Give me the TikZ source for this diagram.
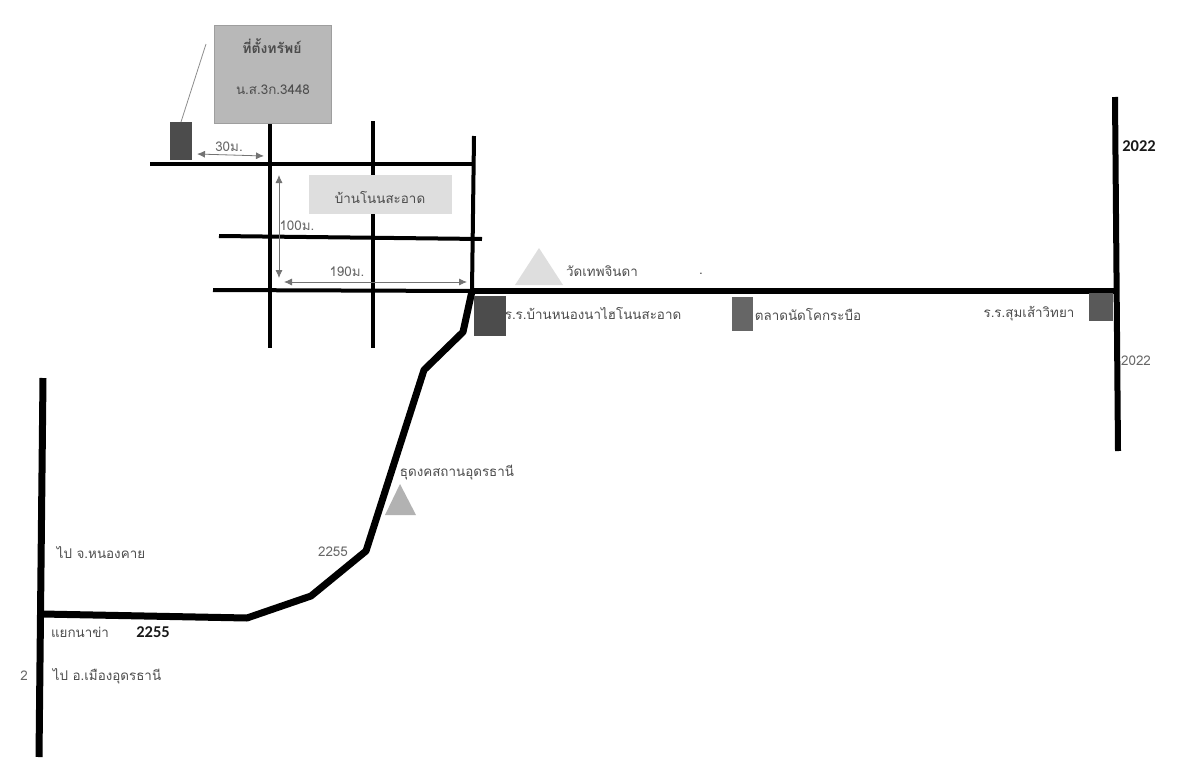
\documentclass[tikz,border=0pt]{standalone}
\usepackage{fontspec}
\usetikzlibrary{arrows.meta}
\setmainfont{Liberation Sans}
\newfontfamily\thaifont[Script=Thai]{Loma}
\newfontfamily\numfont{Carlito}
\begin{document}
\begin{tikzpicture}[x=1pt,y=-1pt,
    road/.style = {color=black,line width=#1,line join=round},
    road/.default = 4pt,
    dim/.style = {color=black!55,line width=0.8pt,{Latex[length=8pt,width=7pt]}-{Latex[length=8pt,width=7pt]}},
    lbl/.style = {color=black!70,font=\thaifont\fontsize{13.4}{15}\selectfont,inner sep=0pt},
    num/.style = {color=black!60,font=\thaifont\fontsize{13.4}{15}\selectfont,inner sep=0pt},
    boldnum/.style = {color=black!90,font=\numfont\bfseries\fontsize{16.5}{18}\selectfont,inner sep=0pt},
    block/.style = {fill=#1,inner sep=0pt,outer sep=0pt}
                    ]
    \useasboundingbox (0,0) rectangle (1200,782);
    % side streets
    \coordinate (v1t) at (270,122);
    \coordinate (v1b) at (270,348);
    \coordinate (v2t) at (373,121);
    \coordinate (v2b) at (373,348);
    \coordinate (v3t) at (474,136);
    \coordinate (jn) at (472,291);
    \coordinate (h1l) at (150,164);
    \coordinate (h1r) at (473,164);
    \coordinate (h2l) at (219,236);
    \coordinate (h2r) at (482,239);
    \coordinate (h3l) at (213,290);
    \coordinate (jr) at (1115,291);
    \draw[road] (v1t) -- (v1b);
    \draw[road] (v2t) -- (v2b);
    \draw[road] (v3t) -- (jn);
    \draw[road] (h1l) -- (h1r);
    \draw[road] (h2l) -- (h2r);
    \draw[road] (h3l) -- (jn);
    % main roads
    \coordinate (r1) at (463,332);
    \coordinate (r2) at (424,370);
    \coordinate (r3) at (366,551);
    \coordinate (r4) at (311,596);
    \coordinate (r5) at (247,618);
    \coordinate (r6) at (42,614);
    \coordinate (lt) at (43,378);
    \coordinate (lb) at (39,757);
    \coordinate (rt) at (1115,97);
    \coordinate (rb) at (1118,451);
    \draw[road=6pt] (jn) -- (jr);
    \draw[road=6pt] (rt) -- (rb);
    \draw[road=7pt] (jn) -- (r1) -- (r2) -- (r3) -- (r4) -- (r5) -- (r6);
    \draw[road=7pt] (lt) -- (lb);
    % boxes
    \node[block=black!28,draw=black!38,minimum width=117pt,minimum height=98pt] at (272.5,74) (plot) {};
    \node[block=black!13,minimum width=143pt,minimum height=39pt] at (380.5,194.5) (village) {};
    \node[block=black!70,minimum width=22pt,minimum height=38pt] at (181,141) (house) {};
    \node[block=black!70,minimum width=32pt,minimum height=40pt] at (490,316) (school) {};
    \node[block=black!60,minimum width=21pt,minimum height=34pt] at (742.5,314) (market) {};
    \node[block=black!65,minimum width=24pt,minimum height=28pt] at (1101,307) (school2) {};
    \coordinate (pt) at (206,44);
    \draw[color=black!45,line width=0.8pt] (pt) -- (house.north);
    % landmarks
    \coordinate (t1a) at (515,285);
    \coordinate (t1b) at (563,285);
    \coordinate (t1c) at (539,248);
    \coordinate (t2a) at (385,515);
    \coordinate (t2b) at (416,515);
    \coordinate (t2c) at (400,484);
    \fill[black!13] (t1a) -- (t1b) -- (t1c) -- cycle;
    \fill[black!30] (t2a) -- (t2b) -- (t2c) -- cycle;
    % distances
    \coordinate (d1a) at (197,154);
    \coordinate (d1b) at (264,156);
    \coordinate (d2a) at (279,175);
    \coordinate (d2b) at (279,278);
    \coordinate (d3a) at (284,282);
    \coordinate (d3b) at (467,282);
    \draw[dim] (d1a) -- (d1b);
    \draw[dim] (d2a) -- (d2b);
    \draw[dim] (d3a) -- (d3b);
    % labels
    \node[lbl,font=\thaifont\bfseries\fontsize{14}{16}\selectfont] at (272,46) (title) {ที่ตั้งทรัพย์};
    \node[lbl] at (273,90) (deed) {น.ส.3ก.3448};
    \node[lbl] at (380,197) (vname) {บ้านโนนสะอาด};
    \node[num] at (229,147) (m30) {30ม.};
    \node[num] at (297,226) (m100) {100ม.};
    \node[num] at (347,272) (m190) {190ม.};
    \node[lbl] at (602,271) (temple) {วัดเทพจินดา};
    \node[lbl] at (701,274) (speck) {.};
    \node[lbl] at (593,313) (sname) {ร.ร.บ้านหนองนาไฮโนนสะอาด};
    \node[lbl] at (808,314) (mname) {ตลาดนัดโคกระบือ};
    \node[lbl] at (1029,314) (s2name) {ร.ร.สุมเส้าวิทยา};
    \node[boldnum] at (1139,146) (n2022a) {2022};
    \node[num] at (1136,361) (n2022b) {2022};
    \node[num] at (333,552) (n2255a) {2255};
    \node[lbl] at (457,473) (cem) {ธุดงคสถานอุดรธานี};
    \node[lbl] at (101,553) (nk) {ไป จ.หนองคาย};
    \node[lbl] at (80,632) (naka) {แยกนาข่า};
    \node[boldnum] at (153,632) (n2255b) {2255};
    \node[num] at (24,676) (n2) {2};
    \node[lbl] at (107,676) (ud) {ไป อ.เมืองอุดรธานี};
\end{tikzpicture}
\end{document}
